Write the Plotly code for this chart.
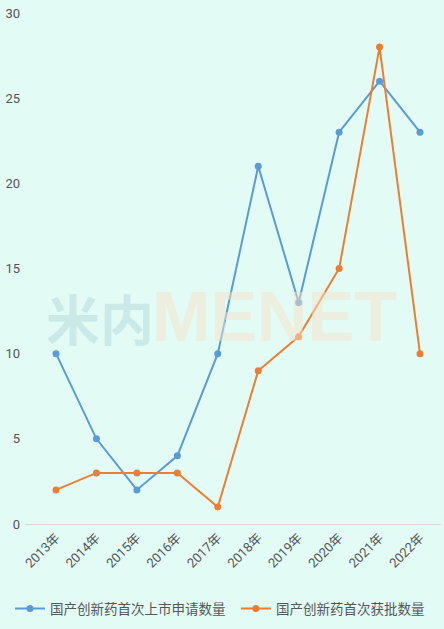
import plotly.graph_objects as go

years = ["2013年", "2014年", "2015年", "2016年", "2017年", "2018年", "2019年", "2020年", "2021年", "2022年"]
applications = [10, 5, 2, 4, 10, 21, 13, 23, 26, 23]
approvals = [2, 3, 3, 3, 1, 9, 11, 15, 28, 10]
name_app = "国产创新药首次上市申请数量"
name_appr = "国产创新药首次获批数量"

fig = go.Figure()
fig.add_trace(go.Scatter(x=years, y=applications, name=name_app, mode="lines+markers", legend="legend",
                         line=dict(color="#5b9bd5", width=2), marker=dict(size=7, color="#5b9bd5")))
fig.add_trace(go.Scatter(x=years, y=approvals, name=name_appr, mode="lines+markers", legend="legend2",
                         line=dict(color="#ed7d31", width=2), marker=dict(size=7, color="#ed7d31")))

# watermark
fig.add_annotation(xref="paper", yref="paper", x=0.045, y=0.405, xanchor="left", yanchor="middle",
                   text="<b>米内</b>", showarrow=False,
                   font=dict(size=54, color="rgba(170,210,215,0.45)", family="Noto Sans CJK SC"))
fig.add_annotation(xref="paper", yref="paper", x=0.3, y=0.405, xanchor="left", yanchor="middle",
                   text="<b>MENET</b>", showarrow=False,
                   font=dict(size=70, color="rgba(245,225,200,0.5)", family="Liberation Sans"))

legend_font = dict(size=13.5, color="#555555", family="Noto Sans CJK SC, sans-serif")
fig.update_layout(
    width=444, height=629,
    margin=dict(l=25, r=3, t=13, b=105, autoexpand=False),
    paper_bgcolor="#e3fbf5", plot_bgcolor="rgba(0,0,0,0)",
    font=dict(family="Roboto, Noto Sans CJK SC, sans-serif", color="#555555"),
    showlegend=True,
    legend=dict(orientation="h", x=-0.036, xanchor="left", y=-0.166, yanchor="middle",
                font=legend_font, itemwidth=30, bgcolor="rgba(0,0,0,0)"),
    legend2=dict(orientation="h", x=0.507, xanchor="left", y=-0.166, yanchor="middle",
                 font=legend_font, itemwidth=30, bgcolor="rgba(0,0,0,0)"),
    xaxis=dict(range=[-0.767, 9.519], tickangle=-45, showgrid=False, showline=True, automargin=False,
               linecolor="#dcd6d8", linewidth=1, ticks="", tickfont=dict(size=13, color="#555555"),
               zeroline=False, fixedrange=True),
    yaxis=dict(range=[0, 30], tickvals=[0, 5, 10, 15, 20, 25, 30], showgrid=False, zeroline=False,
               automargin=False,
               showline=False, ticks="", tickfont=dict(size=13, color="#555555"), ticklabelstandoff=4),
)

fig.write_html("out.html", config={"displayModeBar": False},
               post_script="document.body.style.margin='0';document.body.style.background='#e3fbf5';")
